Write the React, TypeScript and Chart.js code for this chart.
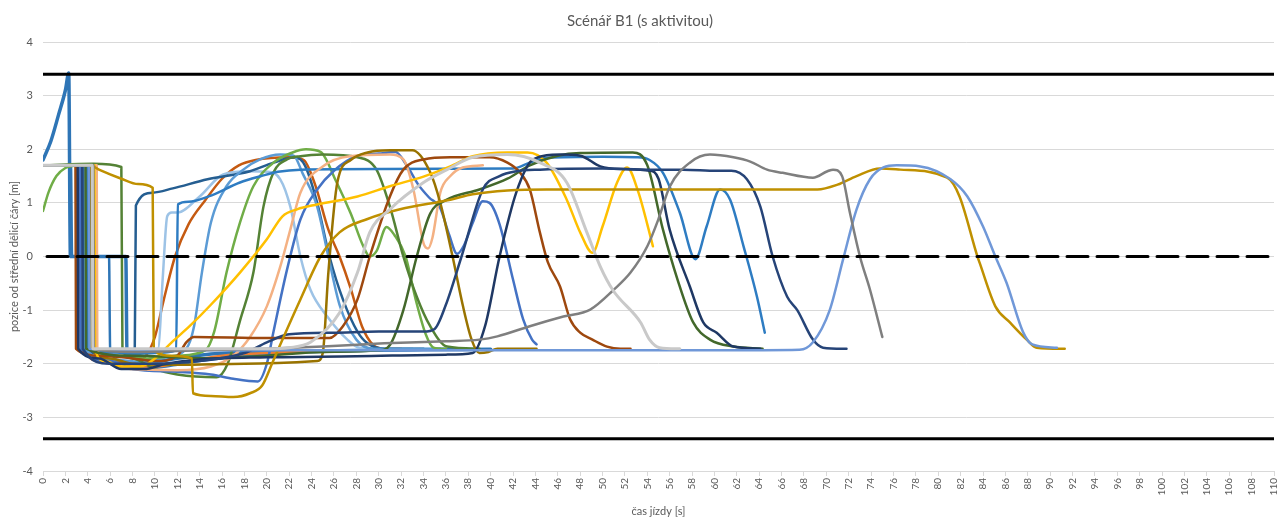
import { useEffect, useRef } from 'react';
import { Chart, registerables } from 'chart.js';

Chart.register(...registerables);

type Pt = [number, number];

// ---- texts ----
const chartTitle = 'Scénář B1 (s aktivitou)';
const xTitle = 'čas jízdy [s]';
const yTitle = 'pozice od střední dělicí čáry [m]';

// ---- axis ranges ----
const timeRange: Pt = [0, 110];
const posRange: Pt = [-4, 4];
const timeStep = 2;
const posStep = 1;

// ---- reference lines (lane edges and centre line) ----
const laneEdges = [3.4, -3.4];
const centreLine = 0;

// ---- rides: [time s, position m] ----
const runSpike: Pt[] = [[0,1.8],[0.7,2.15],[1.4,2.65],[2.0,3.1],[2.3,3.42],[2.45,0],[7.4,0],[7.5,-1.72],[8.5,-1.9],[10,-1.95],[12,-1.9],[15,-1.82],[19,-1.78],[25,-1.76],[32,-1.74],[40,-1.73]];
const runZero: Pt[] = [[0,1.7],[2.5,1.7],[2.6,0],[5.9,0],[6.0,-1.72],[7,-1.95],[8,-2.08],[9,-2.1],[11,-2.05],[14,-1.95],[18,-1.85],[22,-1.8],[28,-1.76],[34,-1.74],[35.5,-1.72]];
const runBlue: Pt[] = [[0,1.7],[3.95,1.7],[4.0,-1.72],[6,-1.78],[8,-1.82],[10,-1.8],[11.9,-1.75],[12.05,0.97],[13,1.02],[14.8,1.12],[17.6,1.38],[19.5,1.5],[21,1.58],[23,1.62],[30,1.63],[42,1.64],[43.5,1.75],[45,1.84],[50,1.86],[53,1.85],[54.2,1.8],[55.4,1.56],[56.9,0.82],[58.3,-0.05],[59.3,0.56],[60.5,1.25],[61.4,1.06],[62.6,0.19],[63.8,-0.75],[64.5,-1.42]];
const runSteel: Pt[] = [[0,1.7],[3.6,1.7],[3.65,-1.72],[5,-1.8],[6.5,-1.78],[8.2,-1.72],[8.3,0.95],[9.8,1.19],[11.6,1.27],[14.7,1.44],[18.5,1.59],[20.6,1.75],[22.5,1.85],[23.4,1.7],[24.5,1.0],[25.6,0],[26.8,-0.8],[28.1,-1.4],[29,-1.62],[30.5,-1.72],[34,-1.72]];
const runLightBlue: Pt[] = [[0,1.7],[3.4,1.7],[3.45,-1.72],[6,-1.82],[8,-1.78],[10.3,-1.72],[10.7,-0.4],[11.1,0.75],[11.5,0.82],[12,0.82],[14,1.12],[16.1,1.53],[18.5,1.59],[20,1.58],[21.2,1.44],[22.1,0.93],[23,0],[23.9,-0.62],[25.4,-1.12],[27.2,-1.55],[28.3,-1.7],[33,-1.72]];
const runSky: Pt[] = [[0,1.7],[3.75,1.7],[3.8,-1.72],[6,-1.92],[9,-1.97],[11,-1.88],[12.8,-1.72],[13.5,-1.3],[14.2,-0.3],[15,0.63],[16.4,1.31],[17.9,1.62],[19.4,1.81],[21.2,1.9],[22.4,1.88],[23.2,1.55],[24.5,0.93],[25.5,0],[26.5,-0.9],[28,-1.55],[29.5,-1.72],[36,-1.72]];
const runMidBlue: Pt[] = [[0,1.7],[3.3,1.7],[3.35,-1.72],[6,-1.95],[8,-2.1],[12,-2.15],[15,-2.2],[17,-2.28],[19.2,-2.33],[20,-2.0],[20.6,-1.4],[21.8,-0.25],[23,0.69],[24.5,1.25],[26,1.6],[28,1.87],[30,1.92],[31.5,1.95],[32.5,1.7],[33.5,1.35],[34.5,1.1],[35.5,0.9],[36.3,0.4],[37,0.05],[37.6,0.2],[38.4,0.63],[39.3,1.03],[39.9,1.0],[40.8,0.6],[42,-0.43],[42.9,-1.17],[43.7,-1.55],[44.1,-1.64]];
const runOrange: Pt[] = [[0,1.7],[3.0,1.7],[3.05,-1.72],[4.5,-1.8],[6,-1.95],[8,-2.0],[9.2,-1.85],[10,-1.5],[10.8,-0.8],[11.8,0],[13,0.6],[14.5,1.05],[16,1.45],[17.5,1.7],[19,1.8],[22,1.85],[23.3,1.8],[24.3,1.35],[25.5,0.5],[26.5,0],[27.5,-0.6],[28.5,-1.3],[29.5,-1.65],[30.5,-1.72],[32,-1.72]];
const runOrange2: Pt[] = [[0,1.7],[3.7,1.7],[3.75,-1.72],[5,-1.95],[7,-2.05],[10,-2.05],[13,-1.95],[16,-1.85],[20,-1.8],[25,-1.76],[30,-1.74]];
const runPeach: Pt[] = [[0,1.7],[4.8,1.7],[4.85,-1.72],[6,-2.0],[8,-2.1],[12,-2.12],[15,-2.05],[17,-1.85],[18.5,-1.5],[20,-0.93],[21.2,-0.19],[22.1,0.5],[23,1.19],[25,1.68],[27.4,1.87],[31,1.9],[32.2,1.81],[33.1,1.25],[34,0.25],[34.4,0.15],[34.8,0.35],[35.5,1.19],[36.4,1.5],[37.5,1.66],[39.3,1.7]];
const runBrown: Pt[] = [[0,1.7],[2.9,1.7],[2.95,-1.72],[5,-1.85],[8,-1.9],[10,-1.95],[12,-1.85],[12.8,-1.6],[13.5,-1.5],[20,-1.52],[25.6,-1.52],[26.8,-1.3],[28.1,-0.8],[29.2,0],[31,1.12],[32.2,1.62],[34,1.81],[36.4,1.85],[39.9,1.85],[41.5,1.75],[42.6,1.57],[43.5,1.25],[44.4,0.45],[45.1,-0.1],[46.2,-0.56],[47.1,-1.17],[48,-1.42],[49.1,-1.55],[50.4,-1.68],[51.6,-1.72],[52.5,-1.72]];
const runGold: Pt[] = [[0,1.7],[4.2,1.7],[5,1.62],[7,1.45],[8.5,1.35],[9.8,1.28],[9.9,-1.75],[11.5,-1.85],[13.3,-1.9],[13.4,-2.55],[15,-2.6],[17,-2.62],[18.5,-2.55],[19.6,-2.4],[20.5,-1.98],[21.5,-1.5],[23,-0.8],[24.8,0],[26.5,0.45],[29,0.7],[31.9,0.88],[36.4,1.06],[38.4,1.16],[41.5,1.23],[45,1.25],[69.2,1.25],[71,1.34],[72.7,1.5],[74.8,1.64],[76.6,1.62],[80.8,1.47],[81.9,1.12],[83.5,0],[83.7,-0.12],[85.1,-0.93],[86.4,-1.23],[87.9,-1.55],[88.8,-1.7],[91.3,-1.72]];
const runOlive: Pt[] = [[0,1.7],[4.3,1.7],[4.35,-1.72],[6,-1.9],[8,-2.0],[12,-2.02],[18,-2.0],[24.5,-1.95],[25,-1.8],[25.5,-0.3],[26.3,1.38],[27.5,1.8],[29,1.94],[31,1.98],[33,1.98],[34.6,1.57],[35.5,1.0],[36.6,0],[37.5,-0.9],[38.3,-1.55],[39,-1.8],[39.8,-1.78],[40.6,-1.72],[44.1,-1.72]];
const runYellow: Pt[] = [[0,1.7],[4.6,1.7],[4.65,-1.72],[5.5,-1.95],[7,-2.05],[8.7,-2.05],[10,-1.9],[11.5,-1.6],[13.1,-1.3],[15,-0.9],[17.6,-0.3],[20,0.32],[21.4,0.75],[22.7,0.88],[24.5,0.97],[28.1,1.12],[31,1.31],[34,1.49],[36.4,1.68],[38.4,1.87],[41.5,1.94],[43.3,1.94],[45,1.75],[46.8,1.06],[48,0.45],[49.1,0.07],[50,0.56],[51.3,1.38],[52.2,1.66],[53.2,1.2],[54,0.6],[54.5,0.19]];
const runSilver: Pt[] = [[0,1.7],[4.4,1.7],[4.45,-1.72],[10,-1.72],[20,-1.72],[22,-1.7],[23.9,-1.6],[26.5,-1.05],[28.1,-0.3],[29.2,0.45],[31,0.88],[34,1.38],[36.1,1.62],[38.4,1.85],[41.5,1.9],[44.4,1.75],[46.8,1.38],[48.6,0.45],[49.8,-0.19],[50.9,-0.62],[53.4,-1.23],[54.2,-1.55],[55.1,-1.7],[56.9,-1.72]];
const runGrey: Pt[] = [[0,1.7],[4.5,1.7],[4.55,-1.72],[8,-1.78],[14,-1.75],[20,-1.72],[25,-1.68],[30.5,-1.62],[36,-1.58],[39,-1.55],[40.6,-1.49],[43.5,-1.3],[46.5,-1.12],[48.9,-0.99],[51,-0.62],[52.5,-0.3],[54,0.19],[55,0.7],[56,1.3],[57.8,1.75],[59.6,1.9],[61.7,1.85],[63.2,1.77],[64.7,1.62],[66.1,1.56],[68.8,1.47],[70.1,1.59],[70.6,1.62],[71.4,1.5],[72.1,0.82],[73,0],[73.9,-0.62],[75,-1.5]];
const runPeriwinkle: Pt[] = [[0,1.7],[4.1,1.7],[4.15,-1.72],[8,-1.75],[20,-1.75],[40,-1.75],[60,-1.75],[67.6,-1.74],[68.8,-1.6],[70.3,-1.0],[71.5,-0.05],[72.7,0.88],[73.9,1.44],[75.1,1.66],[76.3,1.7],[78.4,1.68],[81.1,1.44],[82.6,1.12],[84,0.56],[85.1,0],[86.1,-0.49],[87.6,-1.42],[88.4,-1.64],[90.6,-1.7]];
const runLime: Pt[] = [[0,0.85],[0.5,1.2],[1.2,1.5],[2,1.65],[3,1.7],[4.45,1.71],[4.5,-1.72],[6,-1.85],[9,-1.9],[12,-1.85],[14.5,-1.75],[15.3,-1.4],[16.4,-0.3],[17.6,0.63],[18.8,1.31],[20.6,1.75],[22.3,1.94],[23.5,2.0],[24.8,1.95],[26.2,1.4],[27.5,0.8],[28.6,0.2],[29.2,0],[29.8,0.1],[30.7,0.55],[31.4,0.4],[32.4,0],[33.3,-0.8],[34.2,-1.45],[34.9,-1.7],[36,-1.72]];
const runGreen: Pt[] = [[0,1.7],[4.5,1.73],[7,1.67],[7.1,-1.72],[8,-1.9],[10,-2.1],[12,-2.2],[15.5,-2.25],[16.5,-2.0],[17.6,-1.2],[18.8,-0.3],[19.7,0.93],[20.6,1.57],[21.8,1.81],[23,1.87],[25,1.9],[28.1,1.85],[29.8,1.62],[31,0.93],[32.2,0],[33.4,-0.75],[34.6,-1.3],[36.1,-1.68],[39,-1.72]];
const runForest: Pt[] = [[0,1.7],[3.8,1.7],[3.85,-1.72],[8,-1.85],[15,-1.9],[20,-1.85],[25,-1.78],[30,-1.75],[31,-1.65],[32.2,-1.0],[33.4,0],[34.6,0.8],[36,1.05],[39,1.25],[41.5,1.45],[43.5,1.7],[46,1.88],[48,1.93],[52.7,1.94],[54,1.7],[55.4,0.5],[56.7,-0.43],[58.1,-1.23],[59.6,-1.55],[61.7,-1.68],[64.3,-1.72]];
const runNavy: Pt[] = [[0,1.7],[3.1,1.7],[3.15,-1.72],[5,-1.9],[7,-2.1],[9,-2.1],[11,-2.0],[14,-1.92],[20,-1.88],[28,-1.86],[36,-1.83],[38.4,-1.8],[39.5,-1.3],[40.8,0],[42.3,1.2],[43.8,1.81],[46.2,1.9],[48,1.88],[49.8,1.68],[51.6,1.63],[54.2,1.6],[55,1.45],[56,0.5],[57.8,-0.56],[59,-1.23],[60.2,-1.42],[61.7,-1.68],[64.1,-1.72]];
const runDeepBlue: Pt[] = [[0,1.7],[3.5,1.7],[3.55,-1.72],[6,-2.0],[10,-2.0],[14,-1.95],[18,-1.8],[20,-1.6],[22,-1.45],[26,-1.42],[30,-1.4],[34,-1.4],[35,-1.35],[36,-0.9],[37.4,0],[39.3,1.25],[40.8,1.5],[42.3,1.59],[44.4,1.62],[50,1.64],[54.2,1.62],[57.2,1.62],[60.2,1.6],[61.5,1.6],[62.9,1.44],[64.1,0.93],[65.2,0],[66.5,-0.75],[67.4,-1.0],[68.8,-1.55],[69.7,-1.7],[71.8,-1.72]];

// drawing order: first entry is drawn on top
const rides: Pt[][] = [runSilver, runGrey, runPeriwinkle, runGold, runDeepBlue, runNavy, runForest, runYellow, runBrown, runOlive, runPeach, runBlue, runMidBlue, runGreen, runLime, runSky, runSteel, runLightBlue, runOrange, runOrange2, runZero, runSpike];
const rideColors = ['#C9C9C9', '#7F7F7F', '#7098D8', '#BF9000', '#264478', '#1F3864', '#43682B', '#FFC000', '#9E480E', '#997300', '#F4B183', '#2E7CC2', '#4472C4', '#548235', '#70AD47', '#5B9BD5', '#255E91', '#9DC3E6', '#C55A11', '#ED7D31', '#2E75B6', '#2E75B6'];
const rideWidths = [3, 2.5, 2.5, 2.5, 2.5, 2.5, 2.5, 2.5, 2.5, 2.5, 2.5, 2.5, 2.5, 2.5, 2.5, 2.5, 2.5, 2.5, 2.5, 2.5, 2.5, 3.5];

const FONT = 'Lato, "Open Sans", sans-serif';
const TEXT = '#595959';
const GRID = '#D9D9D9';

export default function App() {
  const ref = useRef<HTMLCanvasElement>(null);

  useEffect(() => {
    document.body.style.margin = '0';
    const toXY = (pts: Pt[]) => pts.map(([x, y]) => ({ x, y }));
    const refLines: any[] = [
      ...laneEdges.map((v) => ({
        data: [{ x: timeRange[0], y: v }, { x: timeRange[1], y: v }],
        borderColor: '#000000',
        borderWidth: 3,
        tension: 0,
      })),
      {
        data: [{ x: timeRange[0], y: centreLine }, { x: timeRange[1], y: centreLine }],
        borderColor: '#000000',
        borderWidth: 3,
        borderDash: [21, 9],
        borderDashOffset: -4,
        tension: 0,
      },
    ];
    const rideSets = rides.map((pts, i) => ({
      data: toXY(pts),
      borderColor: rideColors[i],
      borderWidth: rideWidths[i],
      cubicInterpolationMode: 'monotone' as const,
    }));

    const chart = new Chart(ref.current!, {
      type: 'line',
      data: { datasets: [...refLines, ...rideSets] },
      options: {
        animation: false,
        responsive: false,
        devicePixelRatio: 1,
        events: [],
        layout: { padding: { left: 0, right: 0, top: 0, bottom: 0 } },
        elements: {
          point: { radius: 0 },
          line: { borderCapStyle: 'round', borderJoinStyle: 'round', fill: false },
        },
        plugins: {
          legend: { display: false },
          tooltip: { enabled: false },
          title: {
            display: true,
            text: chartTitle,
            color: TEXT,
            font: { family: FONT, size: 15, weight: 'normal' },
            padding: { top: 12, bottom: 12 },
          },
        },
        scales: {
          x: {
            type: 'linear',
            min: timeRange[0],
            max: timeRange[1],
            ticks: {
              stepSize: timeStep,
              autoSkip: false,
              minRotation: 90,
              maxRotation: 90,
              color: TEXT,
              font: { family: FONT, size: 10 },
              padding: 2,
            },
            grid: { display: true, drawOnChartArea: false, drawTicks: true, tickLength: 5, color: GRID },
            border: { display: true, color: GRID },
            title: {
              display: true,
              text: xTitle,
              color: TEXT,
              font: { family: FONT, size: 11 },
              padding: { top: 0, bottom: 3 },
            },
            afterFit: (s: any) => { s.height = 50; s.paddingRight = 6; s.paddingLeft = 0; },
          },
          y: {
            min: posRange[0],
            max: posRange[1],
            ticks: {
              stepSize: posStep,
              color: TEXT,
              font: { family: FONT, size: 11 },
              padding: 10,
            },
            grid: { color: GRID, drawTicks: false },
            border: { display: false },
            title: {
              display: true,
              text: yTitle,
              color: TEXT,
              font: { family: FONT, size: 11 },
              padding: { top: 8, bottom: 0 },
            },
            afterFit: (s: any) => { s.width = 43; },
          },
        },
      },
    });
    return () => chart.destroy();
  }, []);

  return (
    <div style={{ width: 1280, height: 521, background: '#ffffff' }}>
      <canvas ref={ref} width={1280} height={521} style={{ display: 'block' }} />
    </div>
  );
}
